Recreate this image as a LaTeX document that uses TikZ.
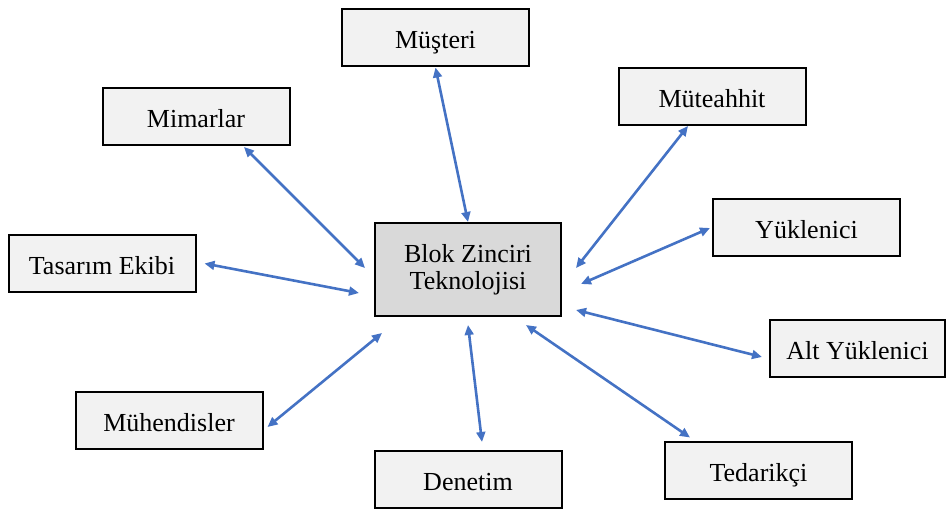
\documentclass[tikz,border=0pt]{standalone}
\usepackage{fontspec}
\setmainfont{Liberation Serif}
\usetikzlibrary{arrows.meta,calc}
\definecolor{okmavi}{HTML}{4472C4}
\definecolor{kutugri}{HTML}{F2F2F2}
\definecolor{merkezgri}{HTML}{D9D9D9}

\begin{document}
\begin{tikzpicture}[
    x=0.5pt, y=-0.5pt,
    kutu/.style={draw, rectangle, line width=1pt, minimum width=93.5pt,
                 minimum height=28.5pt, fill=kutugri, inner sep=2pt,
                 font=\fontsize{13}{13.5}\selectfont},
    paydas/.style={kutu, text height=11pt, text depth=0pt},
    merkez/.style={kutu, minimum width=93pt, minimum height=46.5pt,
                   fill=merkezgri, align=center},
    ar/.style={{Triangle[length=5pt,width=4.4pt]}-{Triangle[length=5pt,width=4.4pt]},
               line width=1.3pt, draw=okmavi, color=okmavi},
]
\useasboundingbox (0,0) rectangle (948,512);

\node[merkez] (blok) at (468,269.5) {Blok Zinciri\\Teknolojisi};

\node[paydas] (mus) at (435.5,38) {Müşteri};
\node[paydas] (mut) at (712,96.5) {Müteahhit};
\node[paydas] (mim) at (196,116.5) {Mimarlar};
\node[paydas] (yuk) at (806.5,227.5) {Yüklenici};
\node[paydas] (tas) at (102,263.5) {Tasarım Ekibi};
\node[paydas, minimum width=87.5pt] (alt) at (857.5,349) {Alt Yüklenici};
\node[paydas] (muh) at (169,421) {Mühendisler};
\node[paydas] (den) at (468,479.5) {Denetim};
\node[paydas] (ted) at (758.5,471) {Tedarikçi};

% merkezden paydaslara
\draw[ar] (mus.south) -- (blok.north);
\draw[ar] ($(mut.south)+(-24,0)$) -- ($(blok.east)+(14,-1.5)$);
\draw[ar] ($(mim.south)+(48,1)$) -- ($(blok.west)+(-9,-1.5)$);
\draw[ar] ($(yuk.west)+(-2,0.5)$) -- ($(blok.east)+(19,14.5)$);
\draw[ar] ($(tas.east)+(8,0)$) -- ($(blok.west)+(-15,23.5)$);
\draw[ar] ($(blok.east)+(14,40.5)$) -- ($(alt.west)+(-7,8)$);
\draw[ar] ($(muh.east)+(4,6)$) -- ($(blok.south west)+(8,16)$);
\draw[ar] ($(blok.south)+(0,8)$) -- ($(den.north)+(14,-8)$);
\draw[ar] ($(blok.south)+(58,8)$) -- ($(ted.north)+(-68.5,-4)$);
\end{tikzpicture}
\end{document}
